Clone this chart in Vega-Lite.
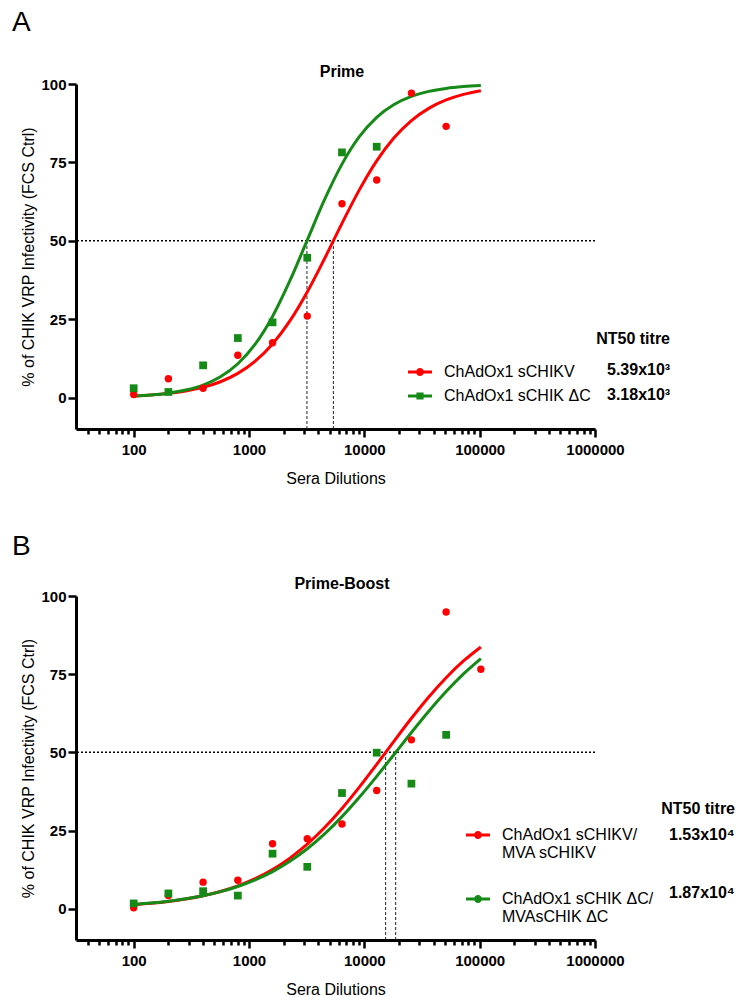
{
  "$schema": "https://vega.github.io/schema/vega-lite/v6.json",
  "padding": {"left": 11, "top": 9, "right": 5, "bottom": 0},
  "background": "white",
  "datasets": {
    "prime_points_v": [
      {"vaccine": "ChAdOx1 sCHIKV", "dilution": 100, "infectivity": 1.0},
      {"vaccine": "ChAdOx1 sCHIKV", "dilution": 200, "infectivity": 6.0},
      {"vaccine": "ChAdOx1 sCHIKV", "dilution": 400, "infectivity": 3.0},
      {"vaccine": "ChAdOx1 sCHIKV", "dilution": 800, "infectivity": 13.5},
      {"vaccine": "ChAdOx1 sCHIKV", "dilution": 1600, "infectivity": 17.5},
      {"vaccine": "ChAdOx1 sCHIKV", "dilution": 3200, "infectivity": 26.0},
      {"vaccine": "ChAdOx1 sCHIKV", "dilution": 6400, "infectivity": 61.8},
      {"vaccine": "ChAdOx1 sCHIKV", "dilution": 12800, "infectivity": 69.4},
      {"vaccine": "ChAdOx1 sCHIKV", "dilution": 25600, "infectivity": 97.1},
      {"vaccine": "ChAdOx1 sCHIKV", "dilution": 51200, "infectivity": 86.5}
    ],
    "prime_points_dc": [
      {"vaccine": "ChAdOx1 sCHIK ΔC", "dilution": 100, "infectivity": 3.0},
      {"vaccine": "ChAdOx1 sCHIK ΔC", "dilution": 200, "infectivity": 1.8},
      {"vaccine": "ChAdOx1 sCHIK ΔC", "dilution": 400, "infectivity": 10.3},
      {"vaccine": "ChAdOx1 sCHIK ΔC", "dilution": 800, "infectivity": 19.0},
      {"vaccine": "ChAdOx1 sCHIK ΔC", "dilution": 1600, "infectivity": 24.0},
      {"vaccine": "ChAdOx1 sCHIK ΔC", "dilution": 3200, "infectivity": 44.6},
      {"vaccine": "ChAdOx1 sCHIK ΔC", "dilution": 6400, "infectivity": 78.2},
      {"vaccine": "ChAdOx1 sCHIK ΔC", "dilution": 12800, "infectivity": 80.0}
    ],
    "prime_curve": [
      {"vaccine": "ChAdOx1 sCHIKV", "dilution": 100, "infectivity": 0.56},
      {"vaccine": "ChAdOx1 sCHIKV", "dilution": 141.4, "infectivity": 0.87},
      {"vaccine": "ChAdOx1 sCHIKV", "dilution": 200, "infectivity": 1.36},
      {"vaccine": "ChAdOx1 sCHIKV", "dilution": 282.8, "infectivity": 2.12},
      {"vaccine": "ChAdOx1 sCHIKV", "dilution": 400, "infectivity": 3.29},
      {"vaccine": "ChAdOx1 sCHIKV", "dilution": 565.7, "infectivity": 5.07},
      {"vaccine": "ChAdOx1 sCHIKV", "dilution": 800, "infectivity": 7.73},
      {"vaccine": "ChAdOx1 sCHIKV", "dilution": 1131.4, "infectivity": 11.61},
      {"vaccine": "ChAdOx1 sCHIKV", "dilution": 1600, "infectivity": 17.10},
      {"vaccine": "ChAdOx1 sCHIKV", "dilution": 2262.7, "infectivity": 24.45},
      {"vaccine": "ChAdOx1 sCHIKV", "dilution": 3200, "infectivity": 33.68},
      {"vaccine": "ChAdOx1 sCHIKV", "dilution": 4525.5, "infectivity": 44.35},
      {"vaccine": "ChAdOx1 sCHIKV", "dilution": 6400, "infectivity": 55.56},
      {"vaccine": "ChAdOx1 sCHIKV", "dilution": 9051, "infectivity": 66.24},
      {"vaccine": "ChAdOx1 sCHIKV", "dilution": 12800, "infectivity": 75.48},
      {"vaccine": "ChAdOx1 sCHIKV", "dilution": 18102, "infectivity": 82.85},
      {"vaccine": "ChAdOx1 sCHIKV", "dilution": 25600, "infectivity": 88.35},
      {"vaccine": "ChAdOx1 sCHIKV", "dilution": 36204, "infectivity": 92.24},
      {"vaccine": "ChAdOx1 sCHIKV", "dilution": 51200, "infectivity": 94.91},
      {"vaccine": "ChAdOx1 sCHIKV", "dilution": 72408, "infectivity": 96.70},
      {"vaccine": "ChAdOx1 sCHIKV", "dilution": 102400, "infectivity": 97.87},
      {"vaccine": "ChAdOx1 sCHIK ΔC", "dilution": 100, "infectivity": 0.50},
      {"vaccine": "ChAdOx1 sCHIK ΔC", "dilution": 141.4, "infectivity": 0.85},
      {"vaccine": "ChAdOx1 sCHIK ΔC", "dilution": 200, "infectivity": 1.43},
      {"vaccine": "ChAdOx1 sCHIK ΔC", "dilution": 282.8, "infectivity": 2.41},
      {"vaccine": "ChAdOx1 sCHIK ΔC", "dilution": 400, "infectivity": 4.02},
      {"vaccine": "ChAdOx1 sCHIK ΔC", "dilution": 565.7, "infectivity": 6.65},
      {"vaccine": "ChAdOx1 sCHIK ΔC", "dilution": 800, "infectivity": 10.80},
      {"vaccine": "ChAdOx1 sCHIK ΔC", "dilution": 1131.4, "infectivity": 17.06},
      {"vaccine": "ChAdOx1 sCHIK ΔC", "dilution": 1600, "infectivity": 25.90},
      {"vaccine": "ChAdOx1 sCHIK ΔC", "dilution": 2262.7, "infectivity": 37.27},
      {"vaccine": "ChAdOx1 sCHIK ΔC", "dilution": 3200, "infectivity": 50.24},
      {"vaccine": "ChAdOx1 sCHIK ΔC", "dilution": 4525.5, "infectivity": 63.18},
      {"vaccine": "ChAdOx1 sCHIK ΔC", "dilution": 6400, "infectivity": 74.46},
      {"vaccine": "ChAdOx1 sCHIK ΔC", "dilution": 9051, "infectivity": 83.20},
      {"vaccine": "ChAdOx1 sCHIK ΔC", "dilution": 12800, "infectivity": 89.38},
      {"vaccine": "ChAdOx1 sCHIK ΔC", "dilution": 18102, "infectivity": 93.47},
      {"vaccine": "ChAdOx1 sCHIK ΔC", "dilution": 25600, "infectivity": 96.05},
      {"vaccine": "ChAdOx1 sCHIK ΔC", "dilution": 36204, "infectivity": 97.64},
      {"vaccine": "ChAdOx1 sCHIK ΔC", "dilution": 51200, "infectivity": 98.60},
      {"vaccine": "ChAdOx1 sCHIK ΔC", "dilution": 72408, "infectivity": 99.17},
      {"vaccine": "ChAdOx1 sCHIK ΔC", "dilution": 102400, "infectivity": 99.51}
    ],
    "prime_titres": [
      {"vaccine": "ChAdOx1 sCHIKV", "nt50": 5390, "titre": "5.39x10³"},
      {"vaccine": "ChAdOx1 sCHIK ΔC", "nt50": 3180, "titre": "3.18x10³"}
    ],
    "boost_points_v": [
      {"vaccine": "ChAdOx1 sCHIKV/MVA sCHIKV", "dilution": 100, "infectivity": 0.3},
      {"vaccine": "ChAdOx1 sCHIKV/MVA sCHIKV", "dilution": 200, "infectivity": 4.2},
      {"vaccine": "ChAdOx1 sCHIKV/MVA sCHIKV", "dilution": 400, "infectivity": 8.5},
      {"vaccine": "ChAdOx1 sCHIKV/MVA sCHIKV", "dilution": 800, "infectivity": 9.1},
      {"vaccine": "ChAdOx1 sCHIKV/MVA sCHIKV", "dilution": 1600, "infectivity": 20.8},
      {"vaccine": "ChAdOx1 sCHIKV/MVA sCHIKV", "dilution": 3200, "infectivity": 22.4},
      {"vaccine": "ChAdOx1 sCHIKV/MVA sCHIKV", "dilution": 6400, "infectivity": 27.1},
      {"vaccine": "ChAdOx1 sCHIKV/MVA sCHIKV", "dilution": 12800, "infectivity": 37.8},
      {"vaccine": "ChAdOx1 sCHIKV/MVA sCHIKV", "dilution": 25600, "infectivity": 54.0},
      {"vaccine": "ChAdOx1 sCHIKV/MVA sCHIKV", "dilution": 51200, "infectivity": 94.9},
      {"vaccine": "ChAdOx1 sCHIKV/MVA sCHIKV", "dilution": 102400, "infectivity": 76.6}
    ],
    "boost_points_dc": [
      {"vaccine": "ChAdOx1 sCHIK ΔC/MVAsCHIK ΔC", "dilution": 100, "infectivity": 1.7},
      {"vaccine": "ChAdOx1 sCHIK ΔC/MVAsCHIK ΔC", "dilution": 200, "infectivity": 4.9},
      {"vaccine": "ChAdOx1 sCHIK ΔC/MVAsCHIK ΔC", "dilution": 400, "infectivity": 5.6},
      {"vaccine": "ChAdOx1 sCHIK ΔC/MVAsCHIK ΔC", "dilution": 800, "infectivity": 4.2},
      {"vaccine": "ChAdOx1 sCHIK ΔC/MVAsCHIK ΔC", "dilution": 1600, "infectivity": 17.6},
      {"vaccine": "ChAdOx1 sCHIK ΔC/MVAsCHIK ΔC", "dilution": 3200, "infectivity": 13.4},
      {"vaccine": "ChAdOx1 sCHIK ΔC/MVAsCHIK ΔC", "dilution": 6400, "infectivity": 37.0},
      {"vaccine": "ChAdOx1 sCHIK ΔC/MVAsCHIK ΔC", "dilution": 12800, "infectivity": 49.9},
      {"vaccine": "ChAdOx1 sCHIK ΔC/MVAsCHIK ΔC", "dilution": 25600, "infectivity": 40.0},
      {"vaccine": "ChAdOx1 sCHIK ΔC/MVAsCHIK ΔC", "dilution": 51200, "infectivity": 55.6}
    ],
    "boost_curve": [
      {"vaccine": "ChAdOx1 sCHIKV/MVA sCHIKV", "dilution": 100, "infectivity": 1.30},
      {"vaccine": "ChAdOx1 sCHIKV/MVA sCHIKV", "dilution": 141.4, "infectivity": 1.74},
      {"vaccine": "ChAdOx1 sCHIKV/MVA sCHIKV", "dilution": 200, "infectivity": 2.33},
      {"vaccine": "ChAdOx1 sCHIKV/MVA sCHIKV", "dilution": 282.8, "infectivity": 3.12},
      {"vaccine": "ChAdOx1 sCHIKV/MVA sCHIKV", "dilution": 400, "infectivity": 4.16},
      {"vaccine": "ChAdOx1 sCHIKV/MVA sCHIKV", "dilution": 565.7, "infectivity": 5.53},
      {"vaccine": "ChAdOx1 sCHIKV/MVA sCHIKV", "dilution": 800, "infectivity": 7.31},
      {"vaccine": "ChAdOx1 sCHIKV/MVA sCHIKV", "dilution": 1131.4, "infectivity": 9.60},
      {"vaccine": "ChAdOx1 sCHIKV/MVA sCHIKV", "dilution": 1600, "infectivity": 12.52},
      {"vaccine": "ChAdOx1 sCHIKV/MVA sCHIKV", "dilution": 2262.7, "infectivity": 16.17},
      {"vaccine": "ChAdOx1 sCHIKV/MVA sCHIKV", "dilution": 3200, "infectivity": 20.63},
      {"vaccine": "ChAdOx1 sCHIKV/MVA sCHIKV", "dilution": 4525.5, "infectivity": 25.95},
      {"vaccine": "ChAdOx1 sCHIKV/MVA sCHIKV", "dilution": 6400, "infectivity": 32.07},
      {"vaccine": "ChAdOx1 sCHIKV/MVA sCHIKV", "dilution": 9051, "infectivity": 38.89},
      {"vaccine": "ChAdOx1 sCHIKV/MVA sCHIKV", "dilution": 12800, "infectivity": 46.17},
      {"vaccine": "ChAdOx1 sCHIKV/MVA sCHIKV", "dilution": 18102, "infectivity": 53.61},
      {"vaccine": "ChAdOx1 sCHIKV/MVA sCHIKV", "dilution": 25600, "infectivity": 60.90},
      {"vaccine": "ChAdOx1 sCHIKV/MVA sCHIKV", "dilution": 36204, "infectivity": 67.73},
      {"vaccine": "ChAdOx1 sCHIKV/MVA sCHIKV", "dilution": 51200, "infectivity": 73.88},
      {"vaccine": "ChAdOx1 sCHIKV/MVA sCHIKV", "dilution": 72408, "infectivity": 79.22},
      {"vaccine": "ChAdOx1 sCHIKV/MVA sCHIKV", "dilution": 102400, "infectivity": 83.71},
      {"vaccine": "ChAdOx1 sCHIK ΔC/MVAsCHIK ΔC", "dilution": 100, "infectivity": 1.39},
      {"vaccine": "ChAdOx1 sCHIK ΔC/MVAsCHIK ΔC", "dilution": 141.4, "infectivity": 1.83},
      {"vaccine": "ChAdOx1 sCHIK ΔC/MVAsCHIK ΔC", "dilution": 200, "infectivity": 2.42},
      {"vaccine": "ChAdOx1 sCHIK ΔC/MVAsCHIK ΔC", "dilution": 282.8, "infectivity": 3.18},
      {"vaccine": "ChAdOx1 sCHIK ΔC/MVAsCHIK ΔC", "dilution": 400, "infectivity": 4.17},
      {"vaccine": "ChAdOx1 sCHIK ΔC/MVAsCHIK ΔC", "dilution": 565.7, "infectivity": 5.46},
      {"vaccine": "ChAdOx1 sCHIK ΔC/MVAsCHIK ΔC", "dilution": 800, "infectivity": 7.12},
      {"vaccine": "ChAdOx1 sCHIK ΔC/MVAsCHIK ΔC", "dilution": 1131.4, "infectivity": 9.23},
      {"vaccine": "ChAdOx1 sCHIK ΔC/MVAsCHIK ΔC", "dilution": 1600, "infectivity": 11.88},
      {"vaccine": "ChAdOx1 sCHIK ΔC/MVAsCHIK ΔC", "dilution": 2262.7, "infectivity": 15.17},
      {"vaccine": "ChAdOx1 sCHIK ΔC/MVAsCHIK ΔC", "dilution": 3200, "infectivity": 19.17},
      {"vaccine": "ChAdOx1 sCHIK ΔC/MVAsCHIK ΔC", "dilution": 4525.5, "infectivity": 23.93},
      {"vaccine": "ChAdOx1 sCHIK ΔC/MVAsCHIK ΔC", "dilution": 6400, "infectivity": 29.45},
      {"vaccine": "ChAdOx1 sCHIK ΔC/MVAsCHIK ΔC", "dilution": 9051, "infectivity": 35.63},
      {"vaccine": "ChAdOx1 sCHIK ΔC/MVAsCHIK ΔC", "dilution": 12800, "infectivity": 42.33},
      {"vaccine": "ChAdOx1 sCHIK ΔC/MVAsCHIK ΔC", "dilution": 18102, "infectivity": 49.33},
      {"vaccine": "ChAdOx1 sCHIK ΔC/MVAsCHIK ΔC", "dilution": 25600, "infectivity": 56.36},
      {"vaccine": "ChAdOx1 sCHIK ΔC/MVAsCHIK ΔC", "dilution": 36204, "infectivity": 63.14},
      {"vaccine": "ChAdOx1 sCHIK ΔC/MVAsCHIK ΔC", "dilution": 51200, "infectivity": 69.44},
      {"vaccine": "ChAdOx1 sCHIK ΔC/MVAsCHIK ΔC", "dilution": 72408, "infectivity": 75.09},
      {"vaccine": "ChAdOx1 sCHIK ΔC/MVAsCHIK ΔC", "dilution": 102400, "infectivity": 79.99}
    ],
    "boost_titres": [
      {"vaccine": "ChAdOx1 sCHIKV/MVA sCHIKV", "nt50": 15300, "titre": "1.53x10⁴"},
      {"vaccine": "ChAdOx1 sCHIK ΔC/MVAsCHIK ΔC", "nt50": 18700, "titre": "1.87x10⁴"}
    ]
  },
  "spacing": 46,
  "resolve": {
    "scale": {"x": "independent", "y": "independent", "color": "independent", "shape": "independent", "stroke": "independent", "opacity": "independent"},
    "legend": {"color": "independent", "shape": "independent", "opacity": "independent"}
  },
  "vconcat": [
    {
      "width": 519,
      "height": 345,
      "layer": [
        {
          "data": {"values": [{"panel": "A"}]},
          "mark": {"type": "text", "fontSize": 28, "fontWeight": "normal", "align": "center", "baseline": "middle", "color": "black"},
          "encoding": {
            "x": {"datum": 10.6, "type": "quantitative", "scale": {"type": "log", "domain": [31.62, 1000000], "nice": false}},
            "y": {"datum": 119.3, "type": "quantitative", "scale": {"domain": [-10, 100], "nice": false, "zero": false}},
            "text": {"field": "panel"}
          }
        },
        {
          "data": {"values": [{"heading": "Prime"}]},
          "mark": {"type": "text", "fontSize": 16, "fontWeight": "bold", "align": "center", "baseline": "middle", "color": "black"},
          "encoding": {
            "x": {"datum": 6403, "type": "quantitative", "scale": {"type": "log", "domain": [31.62, 1000000], "nice": false}},
            "y": {"datum": 103.86, "type": "quantitative", "scale": {"domain": [-10, 100], "nice": false, "zero": false}},
            "text": {"field": "heading"}
          }
        },
        {
          "data": {"values": [{"level": 50}]},
          "mark": {"type": "rule", "color": "black", "strokeWidth": 1.5, "strokeDash": [2, 2]},
          "encoding": {
            "y": {"field": "level", "type": "quantitative", "scale": {"domain": [-10, 100], "nice": false, "zero": false}}
          }
        },
        {
          "data": {"name": "prime_titres"},
          "mark": {"type": "rule", "color": "#222222", "strokeWidth": 1, "strokeDash": [3, 2]},
          "encoding": {
            "x": {"field": "nt50", "type": "quantitative", "scale": {"type": "log", "domain": [31.62, 1000000], "nice": false}},
            "y": {"datum": -10, "type": "quantitative", "scale": {"domain": [-10, 100], "nice": false, "zero": false}},
            "y2": {"datum": 50},
            "opacity": {
              "field": "titre", "type": "ordinal",
              "scale": {"domain": ["5.39x10³", "3.18x10³"], "range": [1, 1]},
              "legend": {
                "orient": "none", "legendX": 507, "legendY": 247, "padding": 0,
                "title": "NT50 titre", "titleFontSize": 16, "titleFontWeight": "bold", "titleColor": "black", "titleFont": "Liberation Sans",
                "titleAnchor": "end", "titlePadding": 11,
                "symbolType": "square", "symbolSize": 576, "symbolOpacity": 0, "symbolStrokeWidth": 0,
                "labelFont": "Liberation Sans", "labelFontSize": 16, "labelFontWeight": "bold", "labelColor": "black", "labelOffset": 0, "labelLimit": 300,
                "rowPadding": 1
              }
            }
          }
        },
        {
          "data": {"name": "prime_curve"},
          "mark": {"type": "line", "interpolate": "monotone", "strokeWidth": 3},
          "encoding": {
            "x": {"field": "dilution", "type": "quantitative", "scale": {"type": "log", "domain": [31.62, 1000000], "nice": false}},
            "y": {"field": "infectivity", "type": "quantitative", "scale": {"domain": [-10, 100], "nice": false, "zero": false}},
            "stroke": {"field": "vaccine", "type": "nominal", "scale": {"domain": ["ChAdOx1 sCHIK ΔC", "ChAdOx1 sCHIKV"], "range": ["#168a16", "#ff0000"]}, "legend": null},
            "detail": {"field": "vaccine"}
          }
        },
        {
          "data": {"name": "prime_titres"},
          "mark": {"type": "point", "filled": true, "size": 0, "opacity": 1, "strokeWidth": 0},
          "encoding": {
            "x": {"field": "nt50", "type": "quantitative", "scale": {"type": "log", "domain": [31.62, 1000000], "nice": false}},
            "y": {"datum": 50, "type": "quantitative", "scale": {"domain": [-10, 100], "nice": false, "zero": false}},
            "color": {"field": "vaccine", "type": "nominal", "scale": {"domain": ["ChAdOx1 sCHIKV", "ChAdOx1 sCHIK ΔC"], "range": ["#ff0000", "#168a16"]}},
            "shape": {"field": "vaccine", "type": "nominal", "scale": {"domain": ["ChAdOx1 sCHIKV", "ChAdOx1 sCHIK ΔC"], "range": ["M-1,-0.12H1V0.12H-1Z M0.33,0A0.33,0.33 0 1,1 -0.33,0A0.33,0.33 0 1,1 0.33,0Z", "M-1,-0.12H1V0.12H-1Z M-0.3,-0.3H0.3V0.3H-0.3Z"]}, "legend": null}
          }
        },
        {
          "data": {"name": "prime_points_v"},
          "mark": {"type": "point", "shape": "circle", "filled": true, "size": 55, "opacity": 1, "strokeWidth": 0},
          "encoding": {
            "x": {
              "field": "dilution", "type": "quantitative",
              "scale": {"type": "log", "domain": [31.62, 1000000], "nice": false},
              "axis": {
                "title": "Sera Dilutions",
                "values": [40,50,60,70,80,90,100,200,300,400,500,600,700,800,900,1000,2000,3000,4000,5000,6000,7000,8000,9000,10000,20000,30000,40000,50000,60000,70000,80000,90000,100000,200000,300000,400000,500000,600000,700000,800000,900000,1000000],
                "labelExpr": "indexof([100,1000,10000,100000,1000000], datum.value) >= 0 ? format(datum.value, 'd') : ''",
                "tickSize": {"condition": {"test": "indexof([100,1000,10000,100000,1000000], datum.value) >= 0", "value": 8}, "value": 5},
                "labelOverlap": false, "labelFlush": false, "grid": false
              }
            },
            "y": {
              "field": "infectivity", "type": "quantitative",
              "scale": {"domain": [-10, 100], "nice": false, "zero": false},
              "axis": {"title": "% of CHIK VRP Infectivity (FCS Ctrl)", "values": [0, 25, 50, 75, 100], "grid": false}
            },
            "color": {
              "field": "vaccine", "type": "nominal",
              "scale": {"domain": ["ChAdOx1 sCHIKV", "ChAdOx1 sCHIK ΔC"], "range": ["#ff0000", "#168a16"]},
              "legend": {
                "orient": "none", "legendX": 332, "legendY": 276, "padding": 0, "title": null,
                "symbolType": "M-1,-0.12H1V0.12H-1Z M0.33,0A0.33,0.33 0 1,1 -0.33,0A0.33,0.33 0 1,1 0.33,0Z", "symbolSize": 576, "symbolStrokeWidth": 0, "symbolOpacity": 1,
                "labelFont": "Liberation Sans", "labelFontSize": 16, "labelColor": "black", "labelOffset": 12, "labelLimit": 300,
                "rowPadding": 4
              }
            }
          }
        },
        {
          "data": {"name": "prime_points_dc"},
          "mark": {"type": "point", "shape": "square", "filled": true, "size": 60, "opacity": 1, "strokeWidth": 0},
          "encoding": {
            "x": {"field": "dilution", "type": "quantitative", "scale": {"type": "log", "domain": [31.62, 1000000], "nice": false}},
            "y": {"field": "infectivity", "type": "quantitative", "scale": {"domain": [-10, 100], "nice": false, "zero": false}},
            "color": {"field": "vaccine", "type": "nominal", "scale": {"domain": ["ChAdOx1 sCHIKV", "ChAdOx1 sCHIK ΔC"], "range": ["#ff0000", "#168a16"]}}
          }
        }
      ]
    },
    {
      "width": 519,
      "height": 344,
      "layer": [
        {
          "data": {"values": [{"panel": "B"}]},
          "mark": {"type": "text", "fontSize": 28, "fontWeight": "normal", "align": "center", "baseline": "middle", "color": "black"},
          "encoding": {
            "x": {"datum": 10.6, "type": "quantitative", "scale": {"type": "log", "domain": [31.62, 1000000], "nice": false}},
            "y": {"datum": 115.75, "type": "quantitative", "scale": {"domain": [-10, 100], "nice": false, "zero": false}},
            "text": {"field": "panel"}
          }
        },
        {
          "data": {"values": [{"heading": "Prime-Boost"}]},
          "mark": {"type": "text", "fontSize": 16, "fontWeight": "bold", "align": "center", "baseline": "middle", "color": "black"},
          "encoding": {
            "x": {"datum": 6403, "type": "quantitative", "scale": {"type": "log", "domain": [31.62, 1000000], "nice": false}},
            "y": {"datum": 103.86, "type": "quantitative", "scale": {"domain": [-10, 100], "nice": false, "zero": false}},
            "text": {"field": "heading"}
          }
        },
        {
          "data": {"values": [{"level": 50}]},
          "mark": {"type": "rule", "color": "black", "strokeWidth": 1.5, "strokeDash": [2, 2]},
          "encoding": {
            "y": {"field": "level", "type": "quantitative", "scale": {"domain": [-10, 100], "nice": false, "zero": false}}
          }
        },
        {
          "data": {"name": "boost_titres"},
          "mark": {"type": "rule", "color": "#222222", "strokeWidth": 1, "strokeDash": [3, 2]},
          "encoding": {
            "x": {"field": "nt50", "type": "quantitative", "scale": {"type": "log", "domain": [31.62, 1000000], "nice": false}},
            "y": {"datum": -10, "type": "quantitative", "scale": {"domain": [-10, 100], "nice": false, "zero": false}},
            "y2": {"datum": 50},
            "opacity": {
              "field": "titre", "type": "ordinal",
              "scale": {"domain": ["1.53x10⁴", "1.87x10⁴"], "range": [1, 1]},
              "legend": {
                "orient": "none", "legendX": 569, "legendY": 205, "padding": 0,
                "title": "NT50 titre", "titleFontSize": 16, "titleFontWeight": "bold", "titleColor": "black", "titleFont": "Liberation Sans",
                "titleAnchor": "end", "titlePadding": 6,
                "symbolType": "square", "symbolSize": 576, "symbolOpacity": 0, "symbolStrokeWidth": 0,
                "labelFont": "Liberation Sans", "labelFontSize": 16, "labelFontWeight": "bold", "labelColor": "black", "labelOffset": 0, "labelLimit": 300,
                "rowPadding": 34
              }
            }
          }
        },
        {
          "data": {"name": "boost_curve"},
          "mark": {"type": "line", "interpolate": "monotone", "strokeWidth": 3},
          "encoding": {
            "x": {"field": "dilution", "type": "quantitative", "scale": {"type": "log", "domain": [31.62, 1000000], "nice": false}},
            "y": {"field": "infectivity", "type": "quantitative", "scale": {"domain": [-10, 100], "nice": false, "zero": false}},
            "stroke": {"field": "vaccine", "type": "nominal", "scale": {"domain": ["ChAdOx1 sCHIK ΔC/MVAsCHIK ΔC", "ChAdOx1 sCHIKV/MVA sCHIKV"], "range": ["#168a16", "#ff0000"]}, "legend": null},
            "detail": {"field": "vaccine"}
          }
        },
        {
          "data": {"name": "boost_points_v"},
          "mark": {"type": "point", "shape": "circle", "filled": true, "size": 55, "opacity": 1, "strokeWidth": 0},
          "encoding": {
            "x": {
              "field": "dilution", "type": "quantitative",
              "scale": {"type": "log", "domain": [31.62, 1000000], "nice": false},
              "axis": {
                "title": "Sera Dilutions",
                "values": [40,50,60,70,80,90,100,200,300,400,500,600,700,800,900,1000,2000,3000,4000,5000,6000,7000,8000,9000,10000,20000,30000,40000,50000,60000,70000,80000,90000,100000,200000,300000,400000,500000,600000,700000,800000,900000,1000000],
                "labelExpr": "indexof([100,1000,10000,100000,1000000], datum.value) >= 0 ? format(datum.value, 'd') : ''",
                "tickSize": {"condition": {"test": "indexof([100,1000,10000,100000,1000000], datum.value) >= 0", "value": 8}, "value": 5},
                "labelOverlap": false, "labelFlush": false, "grid": false
              }
            },
            "y": {
              "field": "infectivity", "type": "quantitative",
              "scale": {"domain": [-10, 100], "nice": false, "zero": false},
              "axis": {"title": "% of CHIK VRP Infectivity (FCS Ctrl)", "values": [0, 25, 50, 75, 100], "grid": false}
            },
            "color": {
              "field": "vaccine", "type": "nominal",
              "scale": {"domain": ["ChAdOx1 sCHIKV/MVA sCHIKV", "ChAdOx1 sCHIK ΔC/MVAsCHIK ΔC"], "range": ["#ff0000", "#168a16"]},
              "legend": {
                "orient": "none", "legendX": 390, "legendY": 227, "padding": 0, "title": null,
                "symbolType": "M-1,-0.12H1V0.12H-1Z M0.33,0A0.33,0.33 0 1,1 -0.33,0A0.33,0.33 0 1,1 0.33,0Z", "symbolSize": 576, "symbolStrokeWidth": 0,
                "labelFont": "Liberation Sans", "labelFontSize": 16, "labelColor": "black", "labelOffset": 12, "labelLimit": 300,
                "labelExpr": "datum.value === 'ChAdOx1 sCHIKV/MVA sCHIKV' ? ['ChAdOx1 sCHIKV/', 'MVA sCHIKV'] : ['ChAdOx1 sCHIK ΔC/', 'MVAsCHIK ΔC']",
                "rowPadding": 26,
                "encode": {
                  "labels": {
                    "update": {
                      "lineHeight": {"value": 21},
                      "dy": {"value": 10.5}
                    }
                  }
                }
              }
            }
          }
        },
        {
          "data": {"name": "boost_points_dc"},
          "mark": {"type": "point", "shape": "square", "filled": true, "size": 60, "opacity": 1, "strokeWidth": 0},
          "encoding": {
            "x": {"field": "dilution", "type": "quantitative", "scale": {"type": "log", "domain": [31.62, 1000000], "nice": false}},
            "y": {"field": "infectivity", "type": "quantitative", "scale": {"domain": [-10, 100], "nice": false, "zero": false}},
            "color": {"field": "vaccine", "type": "nominal", "scale": {"domain": ["ChAdOx1 sCHIKV/MVA sCHIKV", "ChAdOx1 sCHIK ΔC/MVAsCHIK ΔC"], "range": ["#ff0000", "#168a16"]}}
          }
        }
      ]
    }
  ],
  "config": {
    "font": "Liberation Sans",
    "view": {"stroke": null},
    "axis": {
      "domainColor": "black", "domainWidth": 3, "tickColor": "black", "tickWidth": 2.5,
      "labelFont": "Liberation Sans", "labelFontSize": 15, "labelFontWeight": "bold", "labelColor": "black",
      "titleFont": "Liberation Sans", "titleFontSize": 16, "titleFontWeight": "normal", "titleColor": "black"
    },
    "axisX": {"labelPadding": 5, "titlePadding": 13},
    "axisY": {"tickSize": 8, "labelPadding": 2, "titlePadding": 4}
  }
}
